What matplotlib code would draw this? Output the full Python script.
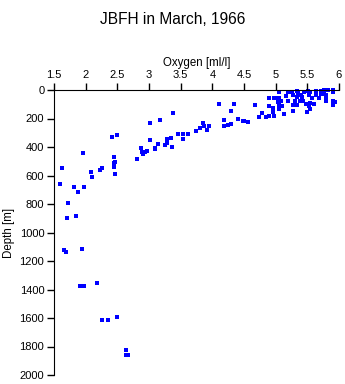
import matplotlib
matplotlib.use("Agg")
import matplotlib.pyplot as plt

plt.rcParams['font.family'] = ['Liberation Sans', 'DejaVu Sans']

oxygen = [3.385, 3.18, 3.02, 3.46, 2.5, 2.42, 3.02, 3.35, 3.29, 3.28, 3.26, 3.14, 3.37, 2.88,
          3.1, 3.1, 2.97, 2.94, 2.89, 2.91, 1.95, 2.81, 2.45, 2.47, 2.44, 2.45, 1.62, 2.26,
          2.23, 2.08, 2.47, 2.1, 1.6, 1.82, 1.98, 1.88, 1.72, 1.71, 1.85,
          1.66, 1.69, 1.94, 1.91, 1.98, 2.18, 2.5, 2.26, 2.36, 2.63, 2.64, 2.67,
          3.53, 3.62, 3.54, 3.75, 3.81, 3.91, 3.95, 3.87, 3.86, 4.19, 4.19, 4.24, 4.3, 4.4,
          4.48, 4.5, 4.57, 4.11, 4.35, 4.29, 4.68, 4.73, 4.79, 4.84, 4.9, 4.89, 4.9, 4.95,
          4.96, 4.98, 4.98, 5.0, 5.03, 5.06, 5.06, 5.06, 5.08, 5.1, 5.13, 5.06, 5.17, 5.2,
          5.19, 5.25, 5.27, 5.28, 5.28, 5.31, 5.33, 5.33, 5.34, 5.36, 5.38, 5.4, 5.43, 5.44,
          5.48, 5.5, 5.51, 5.52, 5.52, 5.55, 5.55, 5.57, 5.6, 5.63, 5.63, 5.64, 5.69, 5.71,
          5.72, 5.74, 5.76, 5.77, 5.8, 5.8, 5.8, 5.82, 5.9, 5.91, 5.9, 5.93, 5.9, 5.41, 5.54]
depth = [160, 212, 230, 307, 317, 333, 350, 340, 343, 375, 385, 380, 398, 406,
         404, 413, 429, 436, 436, 446, 439, 483, 469, 502, 511, 539, 549, 546,
         563, 574, 588, 614, 658, 679, 679, 717, 792, 895, 886,
         1126, 1136, 1115, 1374, 1374, 1353, 1592, 1613, 1613, 1828, 1858, 1858,
         307, 307, 343, 287, 268, 284, 252, 252, 231, 209, 256, 244, 237, 202,
         216, 216, 223, 100, 97, 146, 102, 188, 160, 188, 179, 109, 55, 125,
         153, 184, 55, 55, 83, 55, 132, 102, 79, 109, 165, 13, 39, 79,
         13, 13, 34, 104, 144, 76, 107, 4, 50, 20, 76, 34, 76, 13,
         95, 156, 4, 32, 114, 130, 15, 55, 100, 4, 20, 34, 55, 29,
         4, 15, 0, 25, 34, 55, 79, 0, 0, 13, 76, 83, 104, 46, 90]

x_ticks = [1.5, 2, 2.5, 3, 3.5, 4, 4.5, 5, 5.5, 6]
x_ticklabels = ['1.5', '2', '2.5', '3', '3.5', '4', '4.5', '5', '5.5', '6']
y_ticks = [0, 200, 400, 600, 800, 1000, 1200, 1400, 1600, 1800, 2000]

fig = plt.figure(figsize=(3.45, 3.84), dpi=100)
ax = fig.add_axes([54/345, 1-375/384, 285/345, 285/384])
ax.scatter(oxygen, depth, s=5.5, marker='s', color='#0000ff', linewidths=0, clip_on=False)
ax.set_xlim(1.5, 6)
ax.set_ylim(2000, 0)
ax.xaxis.set_ticks_position('top')
ax.xaxis.set_label_position('top')
ax.set_xticks(x_ticks)
ax.set_xticklabels(x_ticklabels)
ax.set_yticks(y_ticks)
ax.spines['right'].set_visible(False)
ax.spines['bottom'].set_visible(False)
ax.tick_params(axis='both', direction='out', length=5, width=1, labelsize=8, pad=2)
ax.set_xlabel('Oxygen [ml/l]', fontsize=8.3, labelpad=3)
ax.set_ylabel('Depth [m]', fontsize=8.3, labelpad=3)
fig.text(0.5, 1-20/384, 'JBFH in March, 1966', ha='center', va='center', fontsize=11.2)
fig.savefig('out.png', dpi=100)
